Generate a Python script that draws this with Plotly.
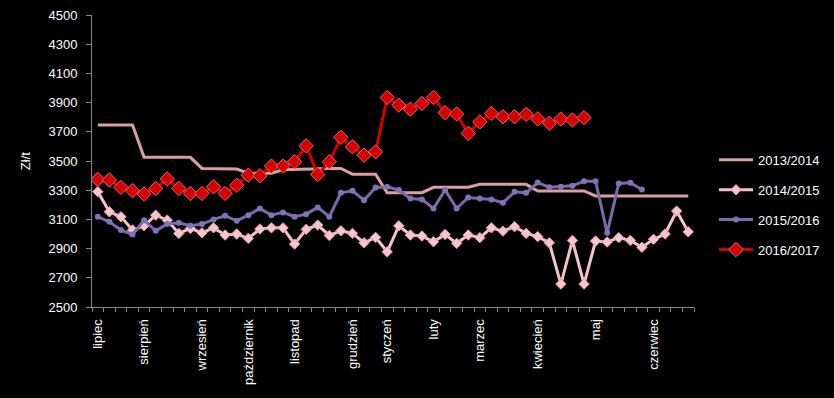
import plotly.graph_objects as go

weeks = list(range(52))
month_pos = [0, 4, 9, 13, 17, 22, 25, 29, 33, 38, 43, 48]
month_labels = ["lipiec", "sierpień", "wrzesień", "październik", "listopad", "grudzień",
                "styczeń", "luty", "marzec", "kwiecień", "maj", "czerwiec"]

s2013 = [3746, 3746, 3746, 3746, 3525, 3525, 3525, 3525, 3525, 3449, 3449, 3449,
         3445, 3416, 3416, 3416, 3440, 3443, 3445, 3447, 3449, 3449, 3410, 3410,
         3410, 3283, 3283, 3283, 3283, 3320, 3320, 3320, 3320, 3340, 3340, 3340,
         3340, 3340, 3295, 3295, 3295, 3295, 3295, 3261, 3261, 3261, 3261, 3261,
         3261, 3261, 3261, 3261]
s2014 = [3290, 3152, 3118, 3027, 3056, 3129, 3095, 3004, 3038, 3008, 3042, 2993,
         3000, 2970, 3034, 3042, 3042, 2931, 3032, 3061, 2990, 3022, 3004, 2940,
         2977, 2878, 3056, 2993, 2986, 2947, 2997, 2936, 2993, 2975, 3042, 3020,
         3050, 3004, 2982, 2940, 2657, 2956, 2657, 2952, 2945, 2975, 2956, 2909,
         2964, 3000, 3157, 3015]
s2015 = [3118, 3084, 3027, 2997, 3095, 3022, 3068, 3077, 3056, 3068, 3100, 3125,
         3090, 3129, 3175, 3129, 3148, 3118, 3136, 3182, 3118, 3282, 3296, 3232,
         3319, 3323, 3301, 3243, 3237, 3175, 3301, 3175, 3250, 3243, 3237, 3214,
         3289, 3282, 3352, 3321, 3323, 3330, 3362, 3362, 3008, 3346, 3351, 3305]
s2016 = [3374, 3370, 3319, 3296, 3274, 3312, 3377, 3312, 3278, 3278, 3323, 3278,
         3334, 3403, 3399, 3465, 3465, 3495, 3604, 3408, 3495, 3662, 3597, 3540,
         3563, 3935, 3883, 3855, 3894, 3935, 3831, 3822, 3689, 3768, 3826, 3803,
         3803, 3819, 3788, 3758, 3788, 3781, 3797]

y_ticks = list(range(2500, 4501, 200))

fig = go.Figure()
fig.add_trace(go.Scatter(x=weeks[:len(s2013)], y=s2013, name="2013/2014", mode="lines",
                         line=dict(color="#D8A0A0", width=3), legendgroup="a"))
fig.add_trace(go.Scatter(x=weeks[:len(s2014)], y=s2014, name="2014/2015", mode="lines+markers",
                         line=dict(color="#F4C4CC", width=3),
                         marker=dict(symbol="diamond", size=8, color="#F6C6CE",
                                     line=dict(color="#E496A8", width=1)), legendgroup="b"))
fig.add_trace(go.Scatter(x=weeks[:len(s2015)], y=s2015, name="2015/2016", mode="lines+markers",
                         line=dict(color="#8068A8", width=3),
                         marker=dict(symbol="circle", size=6, color="#7C74B8"), legendgroup="c"))
fig.add_trace(go.Scatter(x=weeks[:len(s2016)], y=s2016, name="2016/2017", mode="lines+markers",
                         line=dict(color="#D00000", width=3),
                         marker=dict(symbol="diamond", size=11, color="#D40000",
                                     line=dict(color="#F06060", width=1)), legendgroup="d"))

fig.update_layout(
    width=834, height=398,
    margin=dict(l=92, r=140, t=15, b=91, autoexpand=False),
    paper_bgcolor="black", plot_bgcolor="black",
    font=dict(family="Liberation Sans, Arial, sans-serif", size=13, color="white"),
    showlegend=True,
    legend=dict(xref="container", yref="container", x=714 / 834, y=0.636, xanchor="left", yanchor="top",
                bgcolor="rgba(0,0,0,0)", font=dict(size=13, color="white"),
                tracegroupgap=10, traceorder="grouped", itemwidth=34),
    xaxis=dict(range=[-0.5, 51.5], tickmode="array", tickvals=month_pos, ticktext=month_labels,
               tickangle=-90, ticks="", showgrid=False, zeroline=False, automargin=False,
               showline=True, linecolor="#888888", linewidth=1,
               minor=dict(ticks="outside", tickmode="linear", tick0=-0.5, dtick=1,
                          ticklen=4, tickcolor="#888888", showgrid=False),
               tickfont=dict(size=13, color="white"), ticklabelstandoff=6),
    yaxis=dict(range=[2500, 4500], tickmode="array", tickvals=y_ticks,
               ticktext=[str(v) for v in y_ticks], ticks="outside", ticklen=5,
               tickcolor="#888888", showgrid=False, zeroline=False, automargin=False,
               showline=True, linecolor="#888888", linewidth=1,
               tickfont=dict(size=13, color="white"), ticklabelstandoff=6),
    annotations=[dict(text="Zł/t", textangle=-90, xref="paper", yref="paper",
                      x=-0.111, y=0.5, xanchor="center", yanchor="middle", showarrow=False,
                      font=dict(size=13, color="white"))],
)

fig.write_html("out.html", config={"displayModeBar": False},
               post_script="document.body.style.margin='0';document.body.style.background='black';")
